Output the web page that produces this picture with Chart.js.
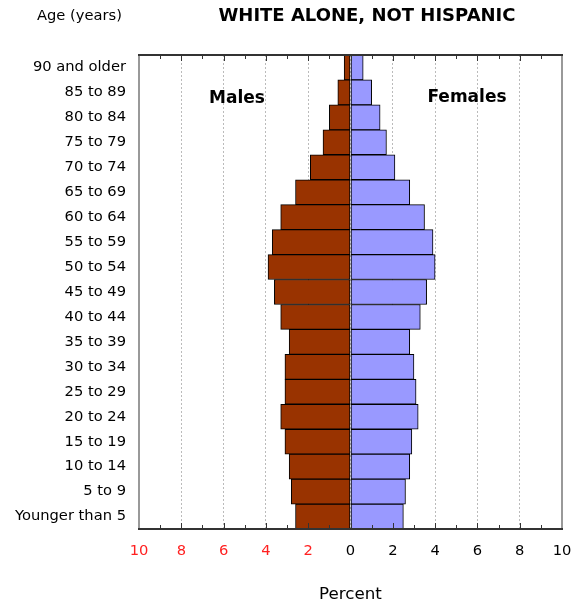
<!DOCTYPE html>
<html>
<head>
<meta charset="utf-8">
<script src="https://cdn.jsdelivr.net/npm/chart.js@4/dist/chart.umd.min.js"></script>
<style>
  html, body { margin: 0; padding: 0; background: #fff; }
  #wrap { width: 574px; height: 607px; }
</style>
</head>
<body>
<div id="wrap"><canvas id="piramide"></canvas></div>
<script>
const faixas = ['90 and older', '85 to 89', '80 to 84', '75 to 79', '70 to 74', '65 to 69',
  '60 to 64', '55 to 59', '50 to 54', '45 to 49', '40 to 44', '35 to 39', '30 to 34',
  '25 to 29', '20 to 24', '15 to 19', '10 to 14', '5 to 9', 'Younger than 5'];
const homens = [0.3, 0.6, 1.0, 1.3, 1.9, 2.6, 3.3, 3.7, 3.9, 3.6, 3.3, 2.9, 3.1, 3.1, 3.3, 3.1, 2.9, 2.8, 2.6];
const mulheres = [0.6, 1.0, 1.4, 1.7, 2.1, 2.8, 3.5, 3.9, 4.0, 3.6, 3.3, 2.8, 3.0, 3.1, 3.2, 2.9, 2.8, 2.6, 2.5];
const escalaMin = -10, escalaMax = 10;

const FONTE = 'Verdana, "DejaVu Sans", sans-serif';

// moldura, marcas de escala para dentro e textos
const extras = {
  id: 'extras',
  afterDatasetsDraw(chart) {
    const ctx = chart.ctx;
    const a = chart.chartArea;
    const x = chart.scales.x;
    ctx.save();
    // marcas
    ctx.strokeStyle = '#333';
    ctx.lineWidth = 1;
    for (let v = escalaMin; v <= escalaMax; v++) {
      const px = Math.round(x.getPixelForValue(v)) + 0.5;
      const len = v % 2 === 0 ? 6 : 4;
      ctx.beginPath();
      ctx.moveTo(px, a.top); ctx.lineTo(px, a.top + len);
      ctx.moveTo(px, a.bottom); ctx.lineTo(px, a.bottom - len);
      ctx.stroke();
    }
    // moldura
    ctx.lineWidth = 2;
    ctx.strokeStyle = '#999';
    ctx.beginPath();
    ctx.moveTo(a.left, a.top); ctx.lineTo(a.left, a.bottom);
    ctx.moveTo(a.right, a.top); ctx.lineTo(a.right, a.bottom);
    ctx.stroke();
    ctx.strokeStyle = '#333';
    ctx.beginPath();
    ctx.moveTo(a.left - 1, a.top); ctx.lineTo(a.right + 1, a.top);
    ctx.moveTo(a.left - 1, a.bottom); ctx.lineTo(a.right + 1, a.bottom);
    ctx.stroke();
    // textos
    ctx.fillStyle = '#000';
    ctx.textBaseline = 'middle';
    ctx.textAlign = 'left';
    ctx.font = '14.7px ' + FONTE;
    ctx.fillText('Age (years)', 37, 16);
    ctx.textAlign = 'center';
    ctx.font = 'bold 18px ' + FONTE;
    ctx.fillText('WHITE ALONE, NOT HISPANIC', 367, 16);
    ctx.font = 'bold 17px ' + FONTE;
    ctx.fillText('Males', 237, 99);
    ctx.fillText('Females', 467, 98);
    ctx.restore();
  }
};

new Chart(document.getElementById('piramide'), {
  type: 'bar',
  data: {
    labels: faixas,
    datasets: [
      {
        label: 'Males',
        data: homens.map(v => -v),
        backgroundColor: '#993300',
        borderColor: '#000',
        borderWidth: 1,
        borderSkipped: false,
        barPercentage: 1,
        categoryPercentage: 1
      },
      {
        label: 'Females',
        data: mulheres,
        backgroundColor: '#9999ff',
        borderColor: '#000',
        borderWidth: 1,
        borderSkipped: false,
        barPercentage: 1,
        categoryPercentage: 1
      }
    ]
  },
  options: {
    indexAxis: 'y',
    responsive: true,
    maintainAspectRatio: false,
    animation: false,
    layout: { padding: { left: 0, right: 12, top: 55, bottom: 0 } },
    plugins: {
      legend: { display: false },
      tooltip: { enabled: false }
    },
    scales: {
      x: {
        stacked: true,
        min: escalaMin,
        max: escalaMax,
        afterFit: s => { s.height = 78; s.paddingLeft = 0; s.paddingRight = 0; },
        ticks: {
          stepSize: 1,
          autoSkip: false,
          maxRotation: 0,
          padding: 13,
          font: { family: FONTE, size: 14.7 },
          color: c => c.tick.value < 0 ? '#ff2020' : '#000',
          callback: v => (v % 2 === 0 ? String(Math.abs(v)) : '')
        },
        grid: {
          drawTicks: false,
          color: c => (c.tick && c.tick.value % 2 === 0 && Math.abs(c.tick.value) !== 10) ? '#bbb' : 'rgba(0,0,0,0)',
          lineWidth: 1
        },
        border: { display: false, dash: [2, 2] },
        title: {
          display: true,
          text: 'Percent',
          font: { family: FONTE, size: 16.7 },
          color: '#000',
          padding: { top: 22, bottom: 2 }
        }
      },
      y: {
        stacked: true,
        afterFit: s => { s.width = 139; },
        ticks: {
          autoSkip: false,
          padding: 13,
          font: { family: FONTE, size: 14.7 },
          color: '#000'
        },
        grid: { display: false, drawTicks: false },
        border: { display: false }
      }
    }
  },
  plugins: [extras]
});
</script>
</body>
</html>
